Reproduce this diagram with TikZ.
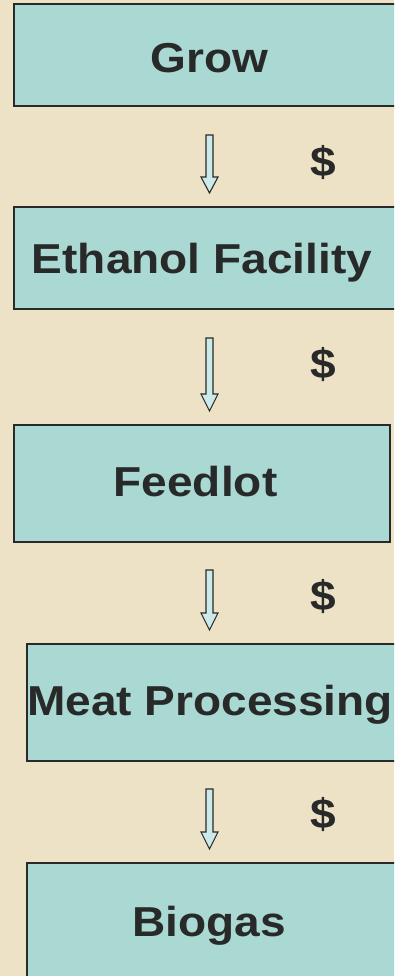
\documentclass[tikz,border=0pt]{standalone}
\usepackage{fontspec}
\setmainfont{Liberation Sans}[FakeStretch=1.1]
\definecolor{bgbeige}{RGB}{237,225,198}
\definecolor{boxteal}{RGB}{170,216,210}
\definecolor{inkdark}{RGB}{40,42,42}
\definecolor{arrfill}{RGB}{205,234,234}
\newcommand{\flowarrow}[4]{%
  \draw[flowarr] ({#1-3.5},#2) -- ({#1+3.5},#2) -- ({#1+3.5},#3) -- ({#1+8.5},#3)
    -- (#1,#4) -- ({#1-8.5},#3) -- ({#1-3.5},#3) -- cycle;}
\begin{document}
\begin{tikzpicture}[x=1bp,y=-1bp,
  box/.style={draw=inkdark, line width=1.5bp, fill=boxteal, inner sep=0pt},
  lbl/.style={font=\bfseries\fontsize{42}{44}\selectfont, text=inkdark, inner sep=0pt, text height=30bp, text depth=0bp},
  dollar/.style={font=\bfseries\fontsize{42}{44}\selectfont, text=inkdark, inner sep=0pt},
  flowarr/.style={draw=inkdark, line width=1.1bp, fill=arrfill, line join=miter}]
\useasboundingbox (0,0) rectangle (394,976);
\fill[bgbeige] (0,0) rectangle (394,976);
\clip (0,0) rectangle (394,976);
% boxes
\node[box, minimum width=386bp, minimum height=102bp] (grow) at (207,55) {};
\node[box, minimum width=386bp, minimum height=102bp] (ethanol) at (207,258) {};
\node[box, minimum width=376bp, minimum height=117bp] (feedlot) at (202,483.5) {};
\node[box, minimum width=373bp, minimum height=117bp] (meat) at (213.5,702.5) {};
\node[box, minimum width=373bp, minimum height=127bp] (biogas) at (213.5,926.5) {};
% labels
\node[lbl] (growlbl) at (209.5,57.5) {Grow};
\node[lbl] (ethanollbl) at (202,258) {Ethanol Facility};
\node[lbl] (feedlotlbl) at (195.5,481) {Feedlot};
\node[lbl] (meatlbl) at (210,700) {Meat Processing};
\node[lbl] (biogaslbl) at (209,921) {Biogas};
% arrows
\flowarrow{209.5}{135}{177}{193}
\flowarrow{209.5}{338}{394}{411}
\flowarrow{209.5}{570}{613}{630}
\flowarrow{209.5}{789}{832}{849}
% dollar signs
\node[dollar] (d1) at (323,163) {\$};
\node[dollar] (d2) at (323,365) {\$};
\node[dollar] (d3) at (323,597) {\$};
\node[dollar] (d4) at (323,815) {\$};
\end{tikzpicture}
\end{document}
